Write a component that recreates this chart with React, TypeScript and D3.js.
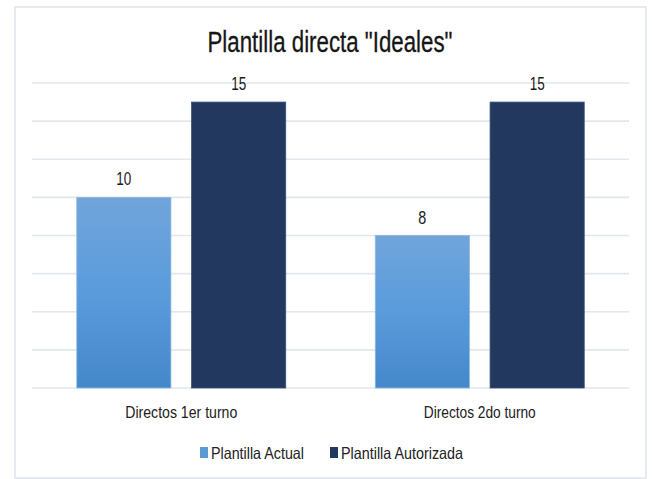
import React from "react";
import * as d3 from "d3";

const categories = ["Directos 1er turno", "Directos 2do turno"];
const seriesNames = ["Plantilla Actual", "Plantilla Autorizada"];
const actual = [10, 8];
const autorizada = [15, 15];
const yTicks = [0, 2, 4, 6, 8, 10, 12, 14, 16];
const title = 'Plantilla directa "Ideales"';

const W = 652;
const H = 479;
const FONT = "'Liberation Sans Narrow', 'Liberation Sans', Arial, sans-serif";

export default function App() {
  const margin = { left: 32, right: 23, top: 83, bottom: 91 };
  const x0 = d3
    .scaleBand<string>()
    .domain(categories)
    .range([margin.left, W - margin.right])
    .paddingInner(0.3)
    .paddingOuter(0.15);
  const x1 = d3
    .scaleBand<string>()
    .domain(seriesNames)
    .range([0, x0.bandwidth()])
    .paddingInner(0.18);
  const y = d3.scaleLinear().domain([0, 16]).range([H - margin.bottom, margin.top]);

  const values = [actual, autorizada];
  const fills = ["url(#gradActual)", "#22385f"];
  const strokes = ["#8db8e3", "#3b5079"];
  const legendFill = ["#5b9bd5", "#22385f"];

  const labelLen: Record<string, number> = { "10": 15, "15": 15, "8": 8 };

  return (
    <svg
      width={W}
      height={H}
      style={{ position: "absolute", left: 0, top: 0, background: "#fff" }}
      fontFamily={FONT}
    >
      <defs>
        <linearGradient id="gradActual" x1="0" y1="0" x2="0" y2="1">
          <stop offset="0%" stopColor="#71a5da" />
          <stop offset="50%" stopColor="#5a9bdc" />
          <stop offset="100%" stopColor="#4588c9" />
        </linearGradient>
      </defs>
      <rect x={15} y={7} width={631} height={471} fill="#fff" stroke="#dfe4ec" strokeWidth={1.5} />
      <text
        x={W / 2 + 4}
        y={52}
        textAnchor="middle"
        fontSize={29}
        fill="#161616"
        stroke="#161616"
        strokeWidth={0.3}
        textLength={245}
        lengthAdjust="spacingAndGlyphs"
      >
        {title}
      </text>
      {yTicks.map((t) => (
        <line
          key={t}
          x1={margin.left}
          x2={W - margin.right}
          y1={y(t)}
          y2={y(t)}
          stroke="#e2e6ed"
          strokeWidth={1.6}
        />
      ))}
      {categories.map((c, ci) => (
        <g key={c}>
          {seriesNames.map((s, si) => {
            const v = values[si][ci];
            const bx = (x0(c) ?? 0) + (x1(s) ?? 0);
            const bw = x1.bandwidth();
            const label = String(v);
            return (
              <g key={s}>
                <rect
                  x={bx}
                  y={y(v)}
                  width={bw}
                  height={y(0) - y(v)}
                  fill={fills[si]}
                  stroke={strokes[si]}
                  strokeWidth={0.8}
                />
                <text
                  x={bx + bw / 2}
                  y={y(v) - 12}
                  textAnchor="middle"
                  fontSize={19}
                  fill="#1a1a1a"
                  textLength={labelLen[label] ?? 15}
                  lengthAdjust="spacingAndGlyphs"
                >
                  {label}
                </text>
              </g>
            );
          })}
          <text
            x={(x0(c) ?? 0) + x0.bandwidth() / 2}
            y={418}
            textAnchor="middle"
            fontSize={16.5}
            fill="#222"
            textLength={112}
            lengthAdjust="spacingAndGlyphs"
          >
            {c}
          </text>
        </g>
      ))}
      {seriesNames.map((s, si) => {
        const lx = si === 0 ? 200 : 330;
        const tw = si === 0 ? 93 : 122;
        return (
          <g key={s}>
            <rect x={lx} y={447} width={8} height={11} fill={legendFill[si]} />
            <text
              x={lx + 11}
              y={459}
              fontSize={16.5}
              fill="#222"
              textLength={tw}
              lengthAdjust="spacingAndGlyphs"
            >
              {s}
            </text>
          </g>
        );
      })}
    </svg>
  );
}
